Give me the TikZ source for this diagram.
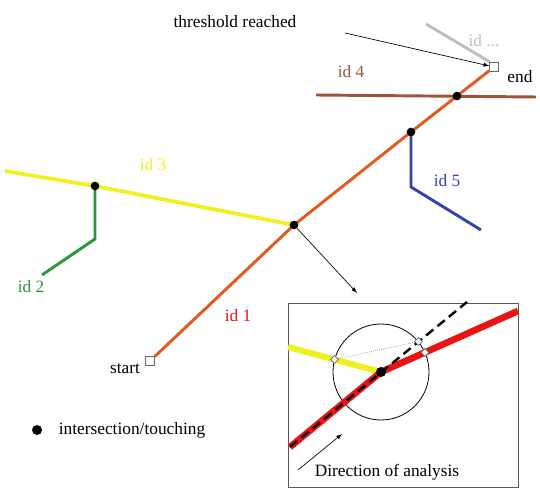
\documentclass[tikz,border=0pt]{standalone}
\usepackage{fontspec}
\setmainfont{Liberation Serif}
\usetikzlibrary{positioning,shapes.geometric}

\definecolor{idone}{RGB}{226,90,32}
\definecolor{idtwo}{RGB}{46,150,58}
\definecolor{idthree}{RGB}{240,240,30}
\definecolor{idfour}{RGB}{160,82,60}
\definecolor{idfive}{RGB}{52,68,170}
\definecolor{idmore}{RGB}{190,190,190}
\definecolor{zoomred}{RGB}{235,20,20}

\tikzset{
  trace/.style={line width=2.2pt},
  isect/.style={circle, fill=black, inner sep=0pt, minimum size=6.5pt},
  endbox/.style={rectangle, draw=gray!80!black, fill=white, inner sep=0pt, minimum size=6.5pt, line width=0.6pt},
  cut/.style={diamond, draw=gray!80!black, fill=white, inner sep=0pt, minimum size=6pt, line width=0.5pt},
}

\begin{document}
\begin{tikzpicture}[x=0.75pt, y=-0.75pt, font=\fontsize{13}{15}\selectfont]
    \useasboundingbox (0,0) rectangle (540,498);

    % points of the traces
    \coordinate (p3a) at (5,171);
    \coordinate (p32) at (95,186);
    \coordinate (p13) at (294,225);
    \coordinate (p15) at (411,132);
    \coordinate (p14) at (457,96);
    \coordinate (p2a) at (95,239);
    \coordinate (p2b) at (42,275);
    \coordinate (p5a) at (411,187);
    \coordinate (p5b) at (481,230);
    \coordinate (p4a) at (316,95);
    \coordinate (p4b) at (536,97);
    \coordinate (pma) at (426,24);
    \coordinate (pmb) at (490,62);

    % traces
    \draw[trace, idfour] (p4a) -- (p4b);
    \draw[trace, idmore] (pma) -- (pmb);
    \draw[trace, idthree, line width=2.8pt] (p3a) -- (p32) -- (p13);
    \draw[trace, idtwo] (p32) -- (p2a) -- (p2b);
    \draw[trace, idfive] (p15) -- (p5a) -- (p5b);

    \node[endbox] (start) at (150,361) {};
    \node[endbox] (end) at (494,67) {};
    \draw[trace, idone] (start) -- (p13) -- (p15) -- (p14) -- (end);

    % intersections
    \node[isect] (x32) at (p32) {};
    \node[isect] (x13) at (p13) {};
    \node[isect] (x15) at (p15) {};
    \node[isect] (x14) at (p14) {};

    % labels
    \node (lthr) at (235,22) {threshold reached};
    \coordinate (thrtail) at (345,33);
    \draw[-latex, line width=0.5pt] (thrtail) -- (end);
    \node[text=idmore] (lmore) at (484,41) {id ...};
    \node (lend) at (520,77) {end};
    \node[text=idfour] (l4) at (351,72) {id 4};
    \node[text=idthree] (l3) at (153,165) {id 3};
    \node[text=idfive] (l5) at (447,181) {id 5};
    \node[text=idtwo] (l2) at (31,287) {id 2};
    \node[text=zoomred] (l1) at (238,316) {id 1};
    \node (lstart) at (125,369) {start};

    % zoom of the intersection
    \coordinate (ztip) at (357,293);
    \draw[-latex, line width=0.5pt] (x13) -- (ztip);
    \draw[line width=0.6pt, gray!70!black] (288,303) rectangle (518,487);

    \coordinate (zc) at (381,372);
    \coordinate (zy) at (288,347);
    \coordinate (zr) at (290,447);
    \coordinate (zre) at (518,311);
    \coordinate (zd) at (467,302);
    \draw[line width=0.6pt] (zc) circle[radius=48];
    \draw[idthree, line width=4.5pt] (zy) -- (zc);
    \draw[zoomred, line width=5pt] (zr) -- (zc) -- (zre);
    \draw[line width=1.8pt, dash pattern=on 7pt off 4pt] (zr) -- (zd);
    \node[isect, minimum size=7.5pt] (zx) at (zc) {};
    \node[cut] (cy) at (334.5,359.5) {};
    \node[cut] (cd) at (418.5,341.5) {};
    \node[cut] (cr) at (425,352.5) {};
    \draw[gray, densely dotted, line width=0.5pt] (cy) -- (cd);

    \coordinate (dtail) at (298,470);
    \coordinate (dtip) at (342,434);
    \draw[-latex, line width=0.5pt] (dtail) -- (dtip);
    \node (ldir) at (387,472) {Direction of analysis};

    % legend
    \node[isect, minimum size=7.5pt] (key) at (37,430) {};
    \node (lkey) at (132,430) {intersection/touching};
\end{tikzpicture}
\end{document}
